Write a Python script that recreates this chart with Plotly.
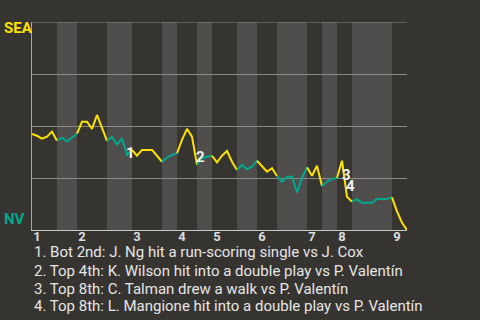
import plotly.graph_objects as go

# Win probability after each play (1 = SEA, 0 = NV)
win_prob = [
    0.462, 0.453, 0.439, 0.449, 0.473, 0.429, 0.444, 0.426, 0.446, 0.463,
    0.521, 0.521, 0.486, 0.553, 0.486, 0.429, 0.447, 0.412, 0.441, 0.361,
    0.385, 0.357, 0.385, 0.385, 0.385, 0.357, 0.328, 0.348, 0.361, 0.369,
    0.433, 0.486, 0.449, 0.313, 0.345, 0.352, 0.357, 0.325, 0.357, 0.380,
    0.328, 0.288, 0.313, 0.292, 0.304, 0.333, 0.304, 0.280, 0.297, 0.260,
    0.232, 0.256, 0.256, 0.181, 0.250, 0.301, 0.261, 0.309, 0.212, 0.232,
    0.245, 0.251, 0.333, 0.160, 0.136, 0.148, 0.131, 0.131, 0.131, 0.149,
    0.149, 0.149, 0.157, 0.090, 0.035, 0.0,
]

# Play index at which each half-inning begins (top 1st ... top 9th)
half_starts = [0, 5, 9, 15, 20, 26, 29, 33, 36, 41, 45, 49, 55, 58, 61, 64, 72]
inning_labels = ["1", "2", "3", "4", "5", "6", "7", "8", "9"]
grid_levels = [0.25, 0.5, 0.75, 1.0]

# Key plays marked on the line
note_plays = [19, 33, 62, 63]
note_labels = ["1", "2", "3", "4"]
note_texts = [
    "1. Bot 2nd: J. Ng hit a run-scoring single vs J. Cox",
    "2. Top 4th: K. Wilson hit into a double play vs P. Valentín",
    "3. Top 8th: C. Talman drew a walk vs P. Valentín",
    "4. Top 8th: L. Mangione hit into a double play vs P. Valentín",
]

BG = "#363431"
BAND = "#4f4e4c"
SEA_COLOR = "#ffe100"
NV_COLOR = "#00a88e"
GRID = "#8a8987"
TEXT = "#e6e6e6"
FONT = "Roboto"

n_last = len(win_prob) - 1
bounds = half_starts + [n_last]

fig = go.Figure()

# One line segment per half-inning, coloured by batting team
for h in range(len(half_starts)):
    s, e = bounds[h], bounds[h + 1]
    fig.add_trace(go.Scatter(
        x=list(range(s, e + 1)),
        y=win_prob[s:e + 1],
        mode="lines",
        line=dict(color=SEA_COLOR if h % 2 == 0 else NV_COLOR, width=2),
        hoverinfo="skip",
        showlegend=False,
    ))

# Shaded bands for the bottom halves of innings
shapes = []
for h in range(1, len(half_starts), 2):
    shapes.append(dict(
        type="rect", xref="x", yref="y domain",
        x0=bounds[h], x1=bounds[h + 1], y0=0, y1=1,
        fillcolor=BAND, line=dict(width=0), layer="below",
    ))
# Top reference line (the axis grid stops short of the range edge)
shapes.append(dict(
    type="line", xref="x domain", yref="y",
    x0=0, x1=1, y0=grid_levels[-1], y1=grid_levels[-1],
    line=dict(color=GRID, width=1), layer="below",
))

annotations = []
# Numbered markers on the line
shifts = [(3, 2), (3, 8), (4, -14), (3, 11)]
for idx, lab, (dx, dy) in zip(note_plays, note_labels, shifts):
    annotations.append(dict(
        x=idx, y=win_prob[idx], xref="x", yref="y",
        text=f"<b>{lab}</b>", showarrow=False,
        xanchor="center", yanchor="middle", xshift=dx, yshift=dy,
        font=dict(family=FONT, size=15, color="#f2f2f2"),
    ))

# Team labels at the ends of the scale
annotations.append(dict(
    x=-0.08, y=0.971, xref="paper", yref="paper", text="<b>SEA</b>",
    showarrow=False, xanchor="left", yanchor="middle",
    font=dict(family=FONT, size=15, color=SEA_COLOR),
))
annotations.append(dict(
    x=-0.08, y=0.052, xref="paper", yref="paper", text="<b>NV</b>",
    showarrow=False, xanchor="left", yanchor="middle",
    font=dict(family=FONT, size=15, color=NV_COLOR),
))

# Play descriptions under the chart
line_y = [-0.107, -0.196, -0.283, -0.367]
for txt, yy in zip(note_texts, line_y):
    annotations.append(dict(
        x=0, y=yy, xref="paper", yref="paper", text=txt,
        showarrow=False, xanchor="left", yanchor="middle",
        font=dict(family=FONT, size=15, color=TEXT),
    ))

fig.update_layout(
    width=480, height=320,
    margin=dict(l=32, r=73, t=22, b=90),
    paper_bgcolor=BG, plot_bgcolor=BG,
    shapes=shapes, annotations=annotations,
    xaxis=dict(
        range=[0, n_last],
        tickvals=[bounds[i] for i in range(0, len(half_starts), 2)],
        ticktext=inning_labels,
        ticklabelshift=5,
        ticklabelstandoff=-6,
        showgrid=False, zeroline=False,
        showline=True, linecolor="#c8c8c8", linewidth=1,
        ticks="", tickfont=dict(family=FONT, size=13, color="#dddddd", weight="bold"),
    ),
    yaxis=dict(
        range=[0, 1],
        tickvals=grid_levels,
        showticklabels=False,
        showgrid=True, gridcolor=GRID, gridwidth=1,
        zeroline=False,
        showline=True, linecolor="#a8a8a8", linewidth=1,
        ticks="",
    ),
)

fig.write_html("out.html")
